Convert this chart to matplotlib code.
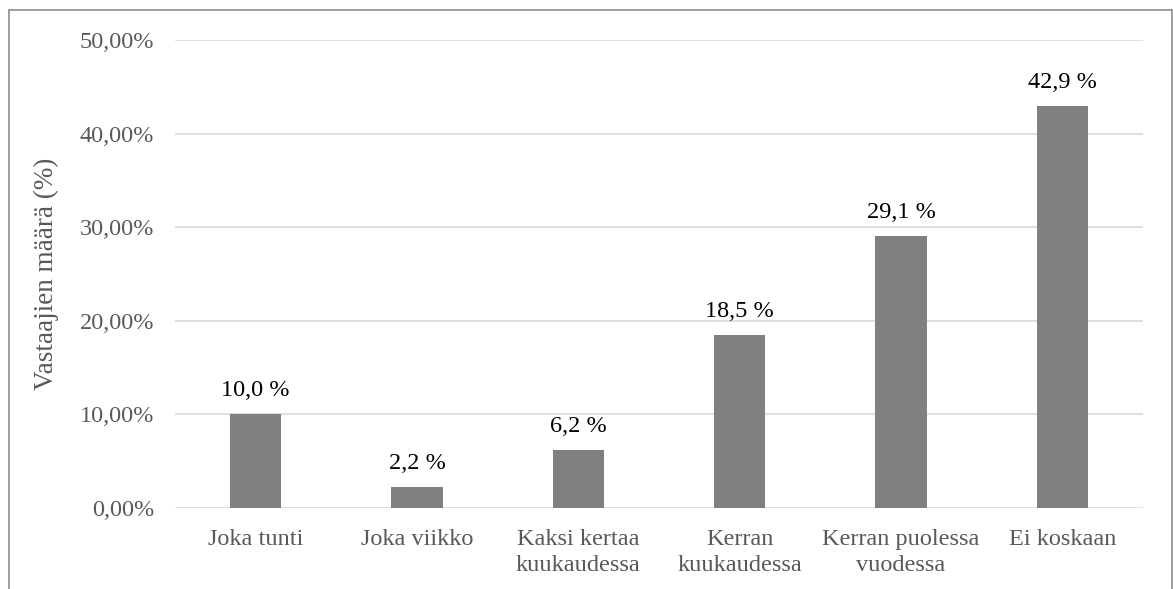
import matplotlib.pyplot as plt
from matplotlib.patches import Rectangle

categories = ["Joka tunti", "Joka viikko", "Kaksi kertaa\nkuukaudessa",
              "Kerran\nkuukaudessa", "Kerran puolessa\nvuodessa", "Ei koskaan"]
values = [10.0, 2.2, 6.2, 18.5, 29.1, 42.9]
yticks = [0, 10, 20, 30, 40, 50]
ytick_labels = ["0,00%", "10,00%", "20,00%", "30,00%", "40,00%", "50,00%"]

plt.rcParams['font.family'] = ['Liberation Serif', 'DejaVu Serif']

fig = plt.figure(figsize=(11.73, 5.89), dpi=100)
ax = fig.add_axes([175 / 1173, 1 - 508 / 589, (1143 - 175) / 1173, 468 / 589])

x = range(len(categories))
ax.bar(x, values, width=0.32, color="#808080", zorder=3)

for i, v in enumerate(values):
    ax.text(i, v + 1.4, f"{v:.1f} %".replace(".", ","), ha="center", va="bottom",
            fontsize=17.5, color="black")

ax.set_xlim(-0.5, len(categories) - 0.5)
ax.set_ylim(0, 50)
ax.set_yticks(yticks)
ax.set_yticklabels(ytick_labels, fontsize=17.5, color="#595959")
ax.set_xticks(list(x))
ax.set_xticklabels(categories, fontsize=17.5, color="#595959", linespacing=1.35)
ax.tick_params(length=0, pad=15, axis="y")
ax.tick_params(length=0, pad=15, axis="x")
ax.yaxis.grid(True, color="#d9d9d9", linewidth=1.2, zorder=0)
for s in ax.spines.values():
    s.set_visible(False)
ax.set_ylabel("Vastaajien määrä (%)", fontsize=19.5, color="#595959", labelpad=15)

# chart frame (bottom edge falls outside the image)
fig.patches.append(Rectangle((8.5 / 1173, -0.2), (1171.5 - 8.5) / 1173, 1.2 - 10 / 589,
                             transform=fig.transFigure, fill=False,
                             edgecolor="#8c8c8c", linewidth=1.2))

fig.savefig("out.png", dpi=100)
